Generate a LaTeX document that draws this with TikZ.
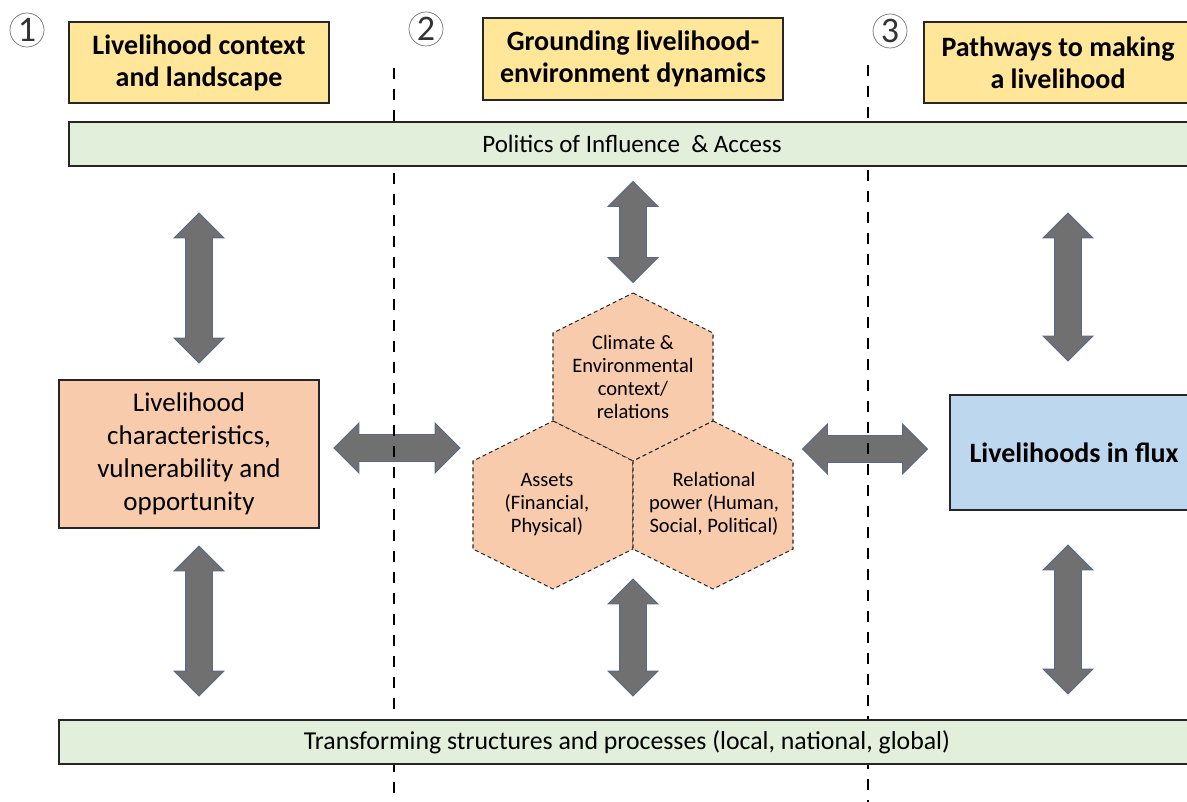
\documentclass[tikz,border=0pt]{standalone}
\usepackage{fontspec}
\setmainfont{Carlito}
\usepackage{tikz}
\usetikzlibrary{shapes.arrows, positioning}

\definecolor{headyellow}{RGB}{255,230,153}
\definecolor{bargreen}{RGB}{226,239,218}
\definecolor{cellorange}{RGB}{248,203,173}
\definecolor{fluxblue}{RGB}{189,215,238}
\definecolor{arrowgray}{RGB}{112,112,112}
\definecolor{arrowedge}{RGB}{88,104,140}

\tikzset{
  headbox/.style={draw=black!85, line width=1.2pt, fill=headyellow, align=center,
    inner sep=0pt, font=\fontsize{28}{32}\selectfont\bfseries},
  barbox/.style={draw=black!85, line width=1.2pt, fill=bargreen, inner sep=0pt,
    minimum height=44, font=\fontsize{25}{28}\selectfont},
  numcircle/.style={circle, draw=black!55, line width=0.7pt, minimum size=34,
    inner sep=0pt, text=black!80, font=\fontsize{36}{36}\selectfont},
  twoway/.style={double arrow, fill=arrowgray, draw=arrowedge, line width=0.8pt,
    inner xsep=0pt, inner ysep=13pt, double arrow head extend=11.5pt},
  hexcell/.style={fill=cellorange, draw=black!85, line width=1.1pt, dash pattern=on 4pt off 3pt},
  hextext/.style={align=center, font=\fontsize{20.5}{23}\selectfont},
  divider/.style={line width=2.8pt, dash pattern=on 11pt off 10pt}
}

\begin{document}
\begin{tikzpicture}[x=1pt, y=-1pt]
\useasboundingbox (0,0) rectangle (1187,802);

\node[numcircle] (n1) at (27,30) {1};
\node[numcircle] (n2) at (426,29) {2};
\node[numcircle] (n3) at (890,31) {3};

\node[headbox, minimum width=260, minimum height=81] (h1) at (199,62.5) {Livelihood context\\and landscape};
\node[headbox, minimum width=300, minimum height=82] (h2) at (633,59) {Grounding livelihood-\\environment dynamics};
\node[headbox, minimum width=268, minimum height=81] (h3) at (1058,62.5) {Pathways to making\\a livelihood};

% block arrows
\node[twoway, rotate=90, minimum height=150] (alt) at (199,288) {};
\node[twoway, rotate=90, minimum height=150] (alb) at (199,621) {};
\node[twoway, rotate=90, minimum height=101] (act) at (633,232) {};
\node[twoway, rotate=90, minimum height=117] (acb) at (633,637.5) {};
\node[twoway, rotate=90, minimum height=148] (art) at (1068,287) {};
\node[twoway, rotate=90, minimum height=149] (arb) at (1068,619.5) {};
\node[twoway, minimum height=126] (alh) at (397,448) {};
\node[twoway, minimum height=125] (arh) at (865,449) {};

\draw[divider] (394,68) -- (394,802);
\draw[divider] (868,65) -- (868,802);

\node[barbox, minimum width=1126] (pol) at (632,144) {Politics of Influence~~\& Access};
\node[barbox, minimum width=1136, font=\fontsize{25.8}{28}\selectfont] (trn) at (627,742)
  {Transforming structures and processes (local, national, global)};

\node[draw=black!85, line width=1.2pt, fill=cellorange, minimum width=260, minimum height=148,
  inner sep=0pt, align=center, font=\fontsize{27}{33}\selectfont] (lc) at (189,454)
  {Livelihood\\characteristics,\\vulnerability and\\opportunity};
\node[draw=black!85, line width=1.2pt, fill=fluxblue, minimum width=248, minimum height=115,
  inner sep=0pt, font=\fontsize{28}{32}\selectfont\bfseries] (flux) at (1074,452.5)
  {Livelihoods in flux};

% hexagon cluster
\coordinate (hc) at (633,377);
\coordinate (ha) at (553,505);
\coordinate (hr) at (713,505);
\foreach \h in {hc,ha,hr}
  \draw[hexcell] (\h) ++(0,-84) -- ++(80,40) -- ++(0,88) -- ++(-80,40)
    -- ++(-80,-40) -- ++(0,-88) -- cycle;
\node[hextext] (climate) at (hc) {Climate \&\\Environmental\\context/\\relations};
\node[hextext] (assets) at (547,505) {Assets\\(Financial,\\Physical)};
\node[hextext] (power) at (714,504) {Relational\\power (Human,\\Social, Political)};

\end{tikzpicture}
\end{document}
